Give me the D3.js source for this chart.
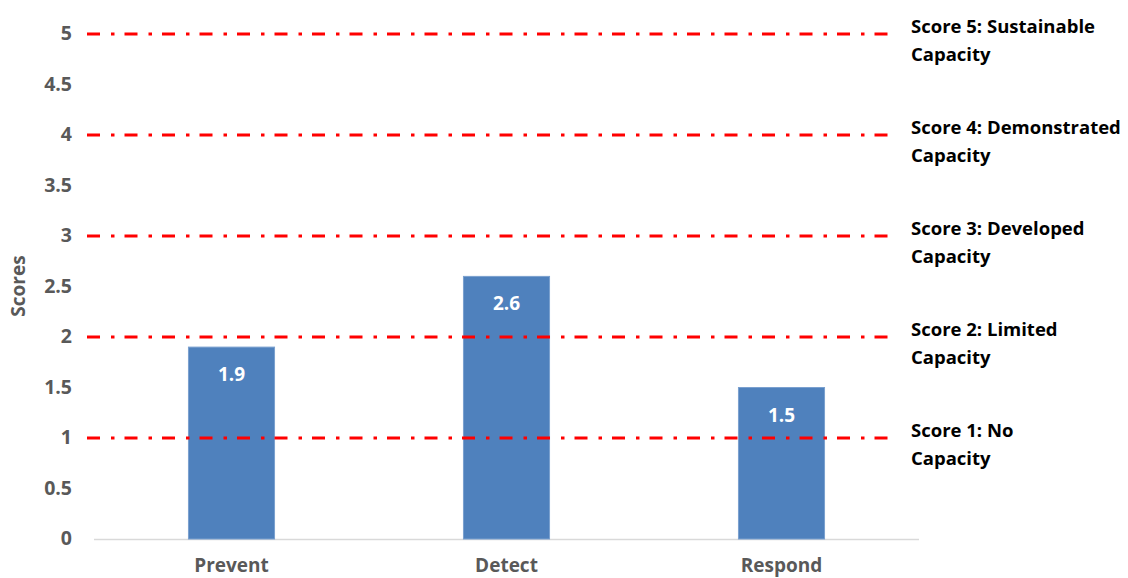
<!DOCTYPE html>
<html>
<head>
<meta charset="utf-8">
<script src="https://cdn.jsdelivr.net/npm/d3@7"></script>
<style>
  html, body { margin: 0; padding: 0; background: #fff; }
  svg { display: block; font-family: "Open Sans", sans-serif; }
</style>
</head>
<body>
<div id="chart"></div>
<script>
var categories = ["Prevent", "Detect", "Respond"];
var scores = [1.9, 2.6, 1.5];
var yTicks = [0, 0.5, 1, 1.5, 2, 2.5, 3, 3.5, 4, 4.5, 5];
var levelValues = [1, 2, 3, 4, 5];
var levelLabels = [
    ["Score 1: No", "Capacity"],
    ["Score 2: Limited", "Capacity"],
    ["Score 3: Developed", "Capacity"],
    ["Score 4: Demonstrated", "Capacity"],
    ["Score 5: Sustainable", "Capacity"]
];

//******************************************************************************
//**  Chart
//******************************************************************************
var width = 1128, height = 578;
var plot = { left: 94, right: 919, top: 34, bottom: 539 };

var svg = d3.select("#chart").append("svg")
    .attr("width", width)
    .attr("height", height);

var x = d3.scaleBand()
    .domain(categories)
    .range([plot.left, plot.right])
    .paddingInner(0.687)
    .paddingOuter(0.3435);

var y = d3.scaleLinear()
    .domain([0, 5])
    .range([plot.bottom, plot.top]);

var grey = "#595959";

//** y tick labels
svg.append("g").selectAll("text")
    .data(yTicks)
    .enter()
    .append("text")
    .attr("x", 72)
    .attr("y", function(d){ return y(d) + 1; })
    .attr("text-anchor", "end")
    .attr("dominant-baseline", "middle")
    .attr("fill", grey)
    .style("font-size", "19.5px")
    .style("font-weight", 700)
    .text(function(d){ return d; });

//** axis title
svg.append("text")
    .attr("transform", "translate(25," + 286 + ") rotate(-90)")
    .attr("text-anchor", "middle")
    .attr("fill", grey)
    .style("font-size", "19px")
    .style("font-weight", 700)
    .text("Scores");

//** baseline
svg.append("line")
    .attr("x1", plot.left)
    .attr("x2", plot.right)
    .attr("y1", y(0) + 0.5)
    .attr("y2", y(0) + 0.5)
    .attr("stroke", "#d9d9d9")
    .attr("stroke-width", 1.5);

//** bars
var bars = svg.append("g");
bars.selectAll("rect")
    .data(scores)
    .enter()
    .append("rect")
    .attr("x", function(d, i){ return x(categories[i]); })
    .attr("y", function(d){ return y(d); })
    .attr("width", x.bandwidth())
    .attr("height", function(d){ return y(0) - y(d); })
    .attr("fill", "#4f81bd")
    .attr("stroke", "#7aa0cf")
    .attr("stroke-width", 1);

bars.selectAll("text")
    .data(scores)
    .enter()
    .append("text")
    .attr("x", function(d, i){ return x(categories[i]) + x.bandwidth() / 2; })
    .attr("y", function(d){ return y(d) + 34; })
    .attr("text-anchor", "middle")
    .attr("fill", "#fff")
    .style("font-size", "19px")
    .style("font-weight", 700)
    .text(function(d){ return d; });

//** category labels
svg.append("g").selectAll("text")
    .data(categories)
    .enter()
    .append("text")
    .attr("x", function(d){ return x(d) + x.bandwidth() / 2; })
    .attr("y", 572)
    .attr("text-anchor", "middle")
    .attr("fill", grey)
    .style("font-size", "19px")
    .style("font-weight", 700)
    .text(function(d){ return d; });

//** score level lines
svg.append("g").selectAll("line")
    .data(levelValues)
    .enter()
    .append("line")
    .attr("x1", 87)
    .attr("x2", 893)
    .attr("y1", function(d){ return y(d); })
    .attr("y2", function(d){ return y(d); })
    .attr("stroke", "#ff0000")
    .attr("stroke-width", 3)
    .attr("stroke-dasharray", "13,11,3.5,10");

//** score level labels
var labels = svg.append("g").selectAll("text")
    .data(levelValues)
    .enter()
    .append("text")
    .attr("fill", "#000")
    .style("font-size", "18.5px")
    .style("font-weight", 700);

labels.each(function(d, i){
    var t = d3.select(this);
    levelLabels[i].forEach(function(line, j){
        t.append("tspan")
            .attr("x", 911)
            .attr("y", y(d) - 1 + j * 28)
            .text(line);
    });
});
</script>
</body>
</html>
